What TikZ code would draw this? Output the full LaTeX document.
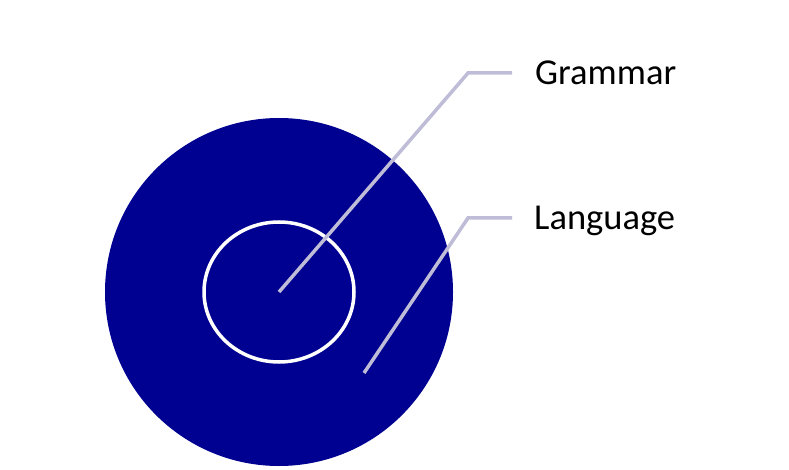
\documentclass[tikz,border=0pt]{standalone}
\usepackage{fontspec}
\setmainfont{Carlito}
\usetikzlibrary{shapes.geometric}
\definecolor{navy}{RGB}{0,0,145}
\definecolor{leader}{RGB}{190,188,215}
\tikzset{
  leaderline/.style={draw=leader, line width=3.5pt},
  label/.style={anchor=base west, inner sep=0pt, font=\fontsize{36.5}{42}\selectfont, text=black}
}
\begin{document}
\begin{tikzpicture}[x=1pt,y=-1pt]
\useasboundingbox (0,0) rectangle (789,470);
\node[circle, fill=navy, minimum size=348pt, inner sep=0pt] (outer) at (279,292) {};
\node[ellipse, draw=white, line width=3.5pt, minimum width=150pt, minimum height=140pt, inner sep=0pt] (inner) at (279,292) {};
\coordinate (g0) at (279,292);
\coordinate (g1) at (468,73);
\coordinate (g2) at (512,73);
\coordinate (l0) at (364,373);
\coordinate (l1) at (468,218);
\coordinate (l2) at (512,218);
\draw[leaderline] (g0) -- (g1) -- (g2);
\draw[leaderline] (l0) -- (l1) -- (l2);
\node[label] (gram) at (535,85) {Grammar};
\node[label] (lang) at (534,230) {Language};
\end{tikzpicture}
\end{document}
